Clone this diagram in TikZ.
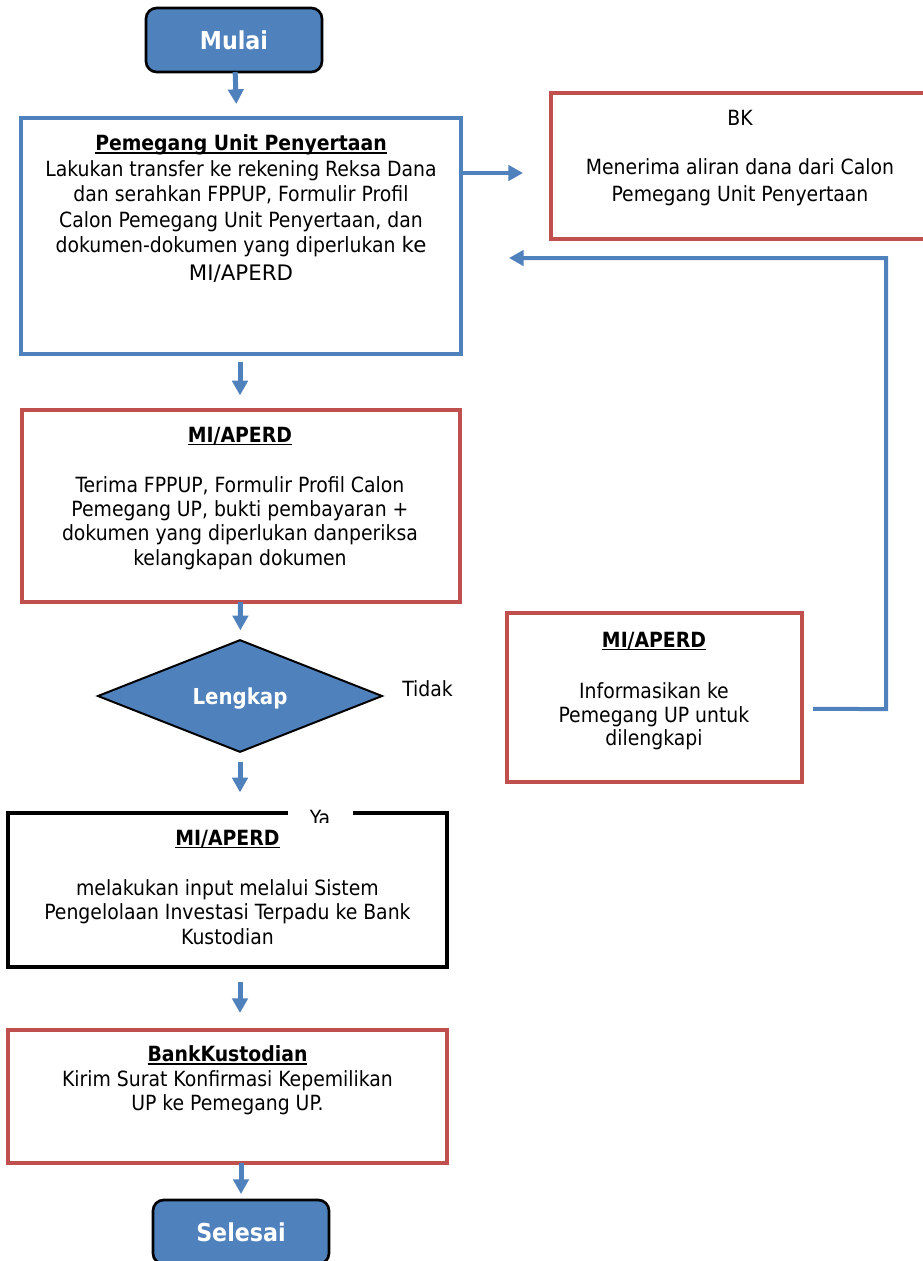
\documentclass[tikz,border=0pt]{standalone}
\usepackage{fontspec}
\setmainfont{DejaVu Sans Condensed}
\newfontfamily\altfont{DejaVu Sans}
\usetikzlibrary{shapes.geometric,arrows.meta}
\definecolor{ublue}{RGB}{79,129,189}
\definecolor{ured}{RGB}{192,80,77}
\newcommand\ulttl[1]{\leavevmode\setbox0\hbox{\textbf{#1}}\rlap{\rule[-2.2pt]{\wd0}{1.2pt}}\box0}
\begin{document}
\begin{tikzpicture}[x=0.75pt,y=-0.75pt,
  every node/.style={inner sep=0pt, outer sep=0pt},
  txt/.style={font=\fontsize{15.7}{18.3}\selectfont, align=center, anchor=north},
  bluebox/.style={draw=ublue, line width=2.5pt, rectangle},
  redbox/.style={draw=ured, line width=3pt, rectangle},
  blackbox/.style={draw=black, line width=3.25pt, rectangle},
  term/.style={draw=black, fill=ublue, line width=2pt, rounded corners=8pt,
    minimum width=132pt, minimum height=48pt, text=white,
    font=\fontsize{18.5}{22}\selectfont\bfseries},
  decision/.style={diamond, draw=black, fill=ublue, line width=1.5pt,
    minimum width=213pt, minimum height=81pt, text=white, text depth=0pt,
    font=\fontsize{16.5}{20}\selectfont\bfseries},
  flow/.style={draw=ublue, line width=3.75pt, -{Triangle[width=11.5pt,length=11pt]}},
  link/.style={draw=ublue, line width=3pt, -{Triangle[width=11.5pt,length=11pt]}},
  plain/.style={font=\fontsize{15.7}{18.3}\selectfont, anchor=base}
]
\useasboundingbox (0,0) rectangle (923,1261);

% boxes
\node[term] (start) at (234,40) {Mulai};
\node[bluebox, minimum width=330pt, minimum height=177pt] (box1) at (241,236) {};
\node[redbox, minimum width=280.5pt, minimum height=109.5pt] (bk) at (738,166) {};
\node[redbox, minimum width=328.5pt, minimum height=144pt] (box2) at (241,506) {};
\node[decision] (dec) at (240,696) {Lengkap};
\node[redbox, minimum width=221.25pt, minimum height=126.75pt] (info) at (654.5,697.5) {};
\node[blackbox, minimum width=329.25pt, minimum height=115.5pt] (box3) at (227.5,890) {};
\node[redbox, minimum width=329.25pt, minimum height=99.75pt] (box4) at (227.5,1096.5) {};
\node[term] (stop) at (241,1232) {Selesai};

% texts
\node[txt, font=\fontsize{15.7}{19.1}\selectfont] (t1) at (241,135) {\ulttl{Pemegang Unit Penyertaan}\\
  Lakukan transfer ke rekening Reksa Dana\\
  dan serahkan FPPUP, Formulir Profil\\
  Calon Pemegang Unit Penyertaan, dan\\
  dokumen-dokumen yang diperlukan {\altfont\fontsize{16}{19.1}\selectfont ke}\\[2pt]
  {\altfont\fontsize{16}{19.1}\selectfont MI/APERD}};
\node[txt, font=\fontsize{15.7}{20}\selectfont] (t2) at (740,110) {BK\\[17pt]
  Menerima aliran dana dari Calon\\
  Pemegang Unit Penyertaan};
\node[txt] (t3) at (240,427) {\ulttl{MI/APERD}\\[19pt]
  Terima FPPUP, Formulir Profil Calon\\
  Pemegang UP, bukti pembayaran +\\
  dokumen yang diperlukan danperiksa\\
  kelangkapan dokumen};
\node[txt, font=\fontsize{15.7}{17.6}\selectfont] (t4) at (654,632) {\ulttl{MI/APERD}\\[21pt]
  Informasikan ke\\
  Pemegang UP untuk\\
  dilengkapi};
\node[txt, font=\fontsize{15.7}{18.5}\selectfont] (t5) at (227.5,830) {\ulttl{MI/APERD}\\[19pt]
  melakukan input melalui Sistem\\
  Pengelolaan Investasi Terpadu ke Bank\\
  Kustodian};
\node[txt] (t6) at (227.5,1046) {\ulttl{BankKustodian}\\
  Kirim Surat Konfirmasi Kepemilikan\\
  UP ke Pemegang UP.};
\node[plain] (tidak) at (427.5,696) {Tidak};
\begin{scope}
  \clip (288,800) rectangle (353,822);
  \fill[white] (288,800) rectangle (353,822);
  \node[plain] (ya) at (320,825) {Ya};
\end{scope}

% connectors
\draw[flow, shorten >=10.5pt] (start) -- (box1);
\draw[flow, shorten <=6pt, shorten >=11pt] ([xshift=-0.75pt]box1.south) -- ([xshift=-0.75pt]box2.north);
\draw[flow, shorten >=7.5pt] (box2) -- (dec);
\draw[flow, shorten <=7.5pt, shorten >=15.5pt] (dec.south) -- (dec.south |- box3.north);
\draw[flow, shorten <=11pt, shorten >=12.75pt] (box3.south -| dec.south) -- (dec.south |- box4.north);
\draw[flow, shorten >=4.5pt] (box4.south -| stop.north) -- (stop);
\draw[link, shorten >=21pt] ([yshift=47.25pt]box1.east) -- ([yshift=-5.25pt]bk.west);
\coordinate (c1) at (886,709);
\coordinate (c2) at (886,258);
\draw[link, shorten <=8.25pt, shorten >=36pt] ([yshift=-8.6pt]info.east) -- (c1) -- (c2) -- ([yshift=-16.5pt]box1.east);
\end{tikzpicture}
\end{document}
